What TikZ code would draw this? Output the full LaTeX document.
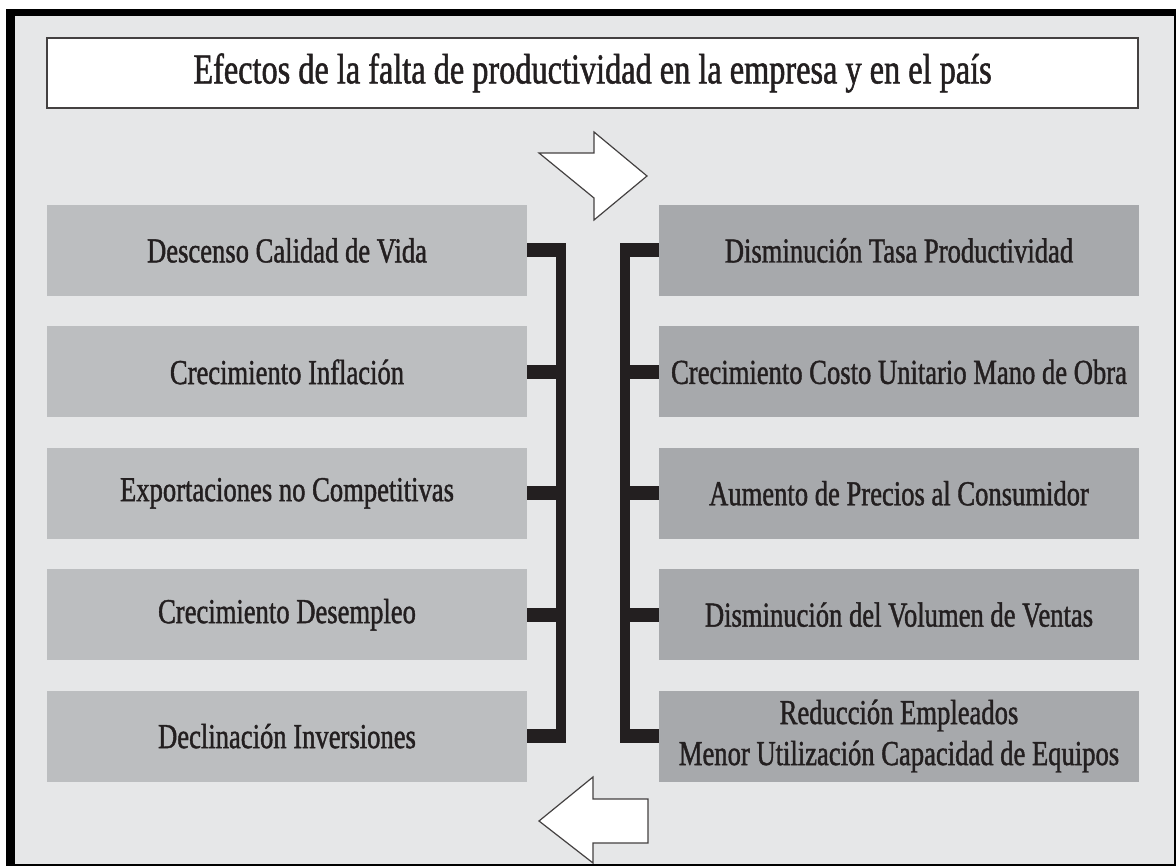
\documentclass[tikz,border=0pt]{standalone}
\usepackage{fontspec}
\setmainfont[FakeStretch=0.76,FakeBold=1.2]{Liberation Serif}
\usetikzlibrary{calc}
\definecolor{fondo}{HTML}{E6E7E8}
\definecolor{izq}{HTML}{BCBEC0}
\definecolor{der}{HTML}{A7A9AC}
\definecolor{tinta}{HTML}{231F20}
\tikzset{
  caja/.style={minimum width=480pt,minimum height=91pt,inner sep=0pt,align=center,text=tinta,font=\fontsize{35}{41}\selectfont},
  talon/.style={line width=14pt,draw=tinta},
  barra/.style={line width=10pt,draw=tinta},
  flecha/.style={draw=tinta!85,fill=white,line width=1.2pt,line join=miter}
}
\begin{document}
\begin{tikzpicture}[x=1pt,y=-1pt]
\useasboundingbox (0,0) rectangle (1176,866);
\fill[black] (6,9) rectangle (1176,866);
\fill[fondo] (15,16) rectangle (1174,864);
\node[draw=tinta!85,line width=2pt,fill=white,minimum width=1091pt,minimum height=70pt,inner sep=0pt,text=tinta,font=\fontsize{42.5}{48}\selectfont] (titulo) at (592.5,73) {Efectos de la falta de productividad en la empresa y en el país};
\foreach \i/\a/\b [evaluate=\i as \y using 250.5+121.4*(\i-1)] in {1/Descenso Calidad de Vida/Disminución Tasa Productividad, 2/Crecimiento Inflación/Crecimiento Costo Unitario Mano de Obra, 3/Exportaciones no Competitivas/Aumento de Precios al Consumidor, 4/Crecimiento Desempleo/Disminución del Volumen de Ventas, 5/Declinación Inversiones/{Reducción Empleados\\Menor Utilización Capacidad de Equipos}}{
  \node[caja,fill=izq] (l\i) at (287,\y) {\a};
  \node[caja,fill=der] (r\i) at (899,\y) {\b};
  \coordinate (bl\i) at (561,\y);
  \coordinate (br\i) at (625,\y);
  \draw[talon] (l\i.east) -- (bl\i);
  \draw[talon] (r\i.west) -- (br\i);
}
\draw[barra] ($(bl1)+(0,-7)$) -- ($(bl5)+(0,7)$);
\draw[barra] ($(br1)+(0,-7)$) -- ($(br5)+(0,7)$);
\draw[flecha] (539,153) -- (594,153) -- (594,132) -- (647,176) -- (594,220) -- (594,198) -- cycle;
\draw[flecha] (648,799) -- (593,799) -- (593,777) -- (539,821) -- (593,863) -- (593,843) -- (648,843) -- cycle;
\end{tikzpicture}
\end{document}
